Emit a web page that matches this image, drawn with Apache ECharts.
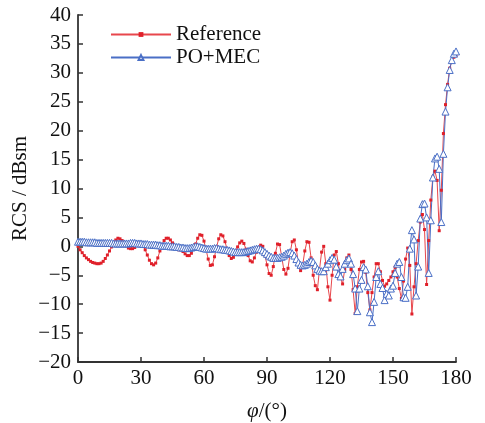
<!DOCTYPE html>
<html><head><meta charset="utf-8">
<script src="https://cdn.jsdelivr.net/npm/echarts@6/dist/echarts.min.js"></script>
<style>html,body{margin:0;padding:0;background:#fff}#c{width:485px;height:423px}</style>
</head><body><div id="c"></div>
<script>
// RCS (dBsm) vs phi (deg), sampled every 1 degree from 0 to 180
const referenceRCS = [
 0.0,-0.6,-1.1,-1.6,-2.0,-2.3,-2.6,-2.8,-2.9,-3.0,
 -3.0,-2.9,-2.6,-2.1,-1.5,-0.8,-0.1,0.6,1.1,1.4,
 1.3,1.0,0.6,0.1,-0.3,-0.4,-0.4,-0.2,0.2,0.5,
 0.5,0.1,-0.6,-1.5,-2.4,-3.0,-3.2,-2.9,-2.0,-0.8,
 0.3,1.0,1.4,1.4,1.1,0.6,0.0,-0.4,-0.6,-0.6,
 -0.9,-1.3,-1.6,-1.6,-1.2,-0.5,0.4,1.4,2.0,1.9,
 0.9,-0.6,-2.2,-3.3,-3.2,-1.8,-0.1,1.3,2.0,1.8,
 0.8,-0.5,-1.6,-2.1,-1.9,-1.0,-0.1,0.6,0.9,0.5,
 -0.5,-1.6,-2.5,-2.7,-2.0,-1.0,-0.2,0.2,0.0,-1.5,
 -3.2,-4.7,-5.0,-3.5,-1.2,0.4,0.3,-1.8,-4.0,-4.8,
 -3.8,-1.2,0.8,1.1,-0.6,-3.0,-4.2,-3.2,-0.8,0.8,
 0.7,-2.0,-5.0,-6.8,-7.5,-4.0,-1.0,0.0,-3.0,-7.0,
 -9.3,-5.0,-1.5,-0.9,-3.0,-5.5,-6.5,-4.0,-2.0,-1.5,
 -4.0,-7.5,-11.6,-7.0,-4.0,-2.7,-2.6,-4.5,-8.0,-11.0,
 -8.0,-5.3,-3.0,-3.0,-4.4,-5.9,-6.9,-6.5,-5.9,-5.3,
 -4.4,-3.6,-5.3,-7.3,-9.0,-6.0,-2.2,-0.3,-3.3,-11.7,
 -7.0,-3.0,1.0,4.2,5.5,2.9,-6.6,1.0,8.0,12.0,
 13.0,11.4,2.7,9.7,19.5,24.5,28.0,30.8,32.0,32.7,33.0
];
const pomecRCS = [
 0.8,0.8,0.8,0.8,0.7,0.7,0.7,0.7,0.7,0.6,
 0.6,0.6,0.6,0.6,0.6,0.6,0.6,0.5,0.5,0.5,
 0.5,0.5,0.5,0.5,0.5,0.6,0.6,0.6,0.5,0.5,
 0.5,0.4,0.4,0.4,0.3,0.3,0.3,0.3,0.2,0.2,
 0.1,0.1,0.1,0.1,0.0,0.0,0.0,-0.1,-0.1,-0.2,
 -0.2,-0.3,-0.3,-0.3,-0.2,-0.1,0.0,0.0,-0.1,-0.2,
 -0.3,-0.4,-0.4,-0.4,-0.4,-0.3,-0.3,-0.4,-0.5,-0.5,
 -0.6,-0.6,-0.7,-0.8,-0.9,-1.0,-1.0,-1.0,-1.0,-1.0,
 -0.9,-0.8,-0.7,-0.6,-0.5,-0.4,-0.4,-0.5,-0.7,-1.0,
 -1.3,-1.6,-1.8,-2.0,-2.0,-2.0,-1.9,-1.8,-1.6,-1.3,
 -1.1,-1.0,-1.2,-1.6,-2.2,-2.8,-3.2,-3.3,-3.2,-3.0,
 -2.7,-2.5,-2.7,-3.3,-3.9,-4.2,-4.3,-4.3,-3.6,-3.0,
 -2.4,-2.0,-2.3,-3.5,-4.8,-5.2,-3.9,-3.0,-2.4,-2.1,
 -3.0,-4.8,-7.3,-11.2,-7.3,-5.8,-3.6,-4.0,-6.9,-11.4,
 -13.1,-9.6,-5.3,-4.3,-6.5,-7.2,-9.3,-8.2,-8.5,-7.3,
 -6.8,-4.6,-3.0,-2.7,-5.3,-8.8,-8.9,-7.0,-0.4,2.8,
 1.2,-8.5,-3.5,4.8,7.3,7.4,5.0,-4.6,4.5,11.9,
 15.2,15.5,13.4,4.2,16.0,23.3,27.5,30.5,32.2,33.3,33.7
];
const phiAngles = referenceRCS.map((_, i) => i);
const xTicks = [0, 30, 60, 90, 120, 150, 180];
const yTicks = [-20, -15, -10, -5, 0, 5, 10, 15, 20, 25, 30, 35, 40];
const seriesNames = ['Reference', 'PO+MEC'];

const font = 'Liberation Serif, Times New Roman, serif';
const chart = echarts.init(document.getElementById('c'), null, {renderer: 'canvas'});
const fmt = v => String(v).replace('-', '\u2212');
chart.setOption({
  animation: false,
  backgroundColor: '#ffffff',
  grid: {left: 78, right: 29, top: 15, bottom: 61, containLabel: false, outerBoundsMode: 'none'},
  legend: {
    left: 110, top: 24, padding: 0, orient: 'vertical', itemWidth: 60, itemHeight: 6, itemGap: 2,
    data: seriesNames,
    textStyle: {fontFamily: font, fontSize: 21, color: '#111'}
  },
  xAxis: {
    type: 'value', min: xTicks[0], max: xTicks[xTicks.length - 1], interval: 30,
    name: '{i|φ}/(°)', nameLocation: 'middle', nameGap: 39, nameMoveOverlap: false,
    nameTextStyle: {fontFamily: font, fontSize: 21, color: '#111',
      rich: {i: {fontFamily: font, fontStyle: 'italic', fontSize: 21, color: '#111'}}},
    axisLine: {show: true, onZero: false, lineStyle: {color: '#333', width: 1.8}},
    axisTick: {show: true, inside: true, length: 5, lineStyle: {color: '#333', width: 1.5}},
    axisLabel: {fontFamily: font, fontSize: 21, color: '#111', margin: 6},
    splitLine: {show: false}
  },
  yAxis: {
    type: 'value', min: yTicks[0], max: yTicks[yTicks.length - 1], interval: 5,
    name: 'RCS / dBsm', nameLocation: 'middle', nameGap: 47, nameMoveOverlap: false,
    nameTextStyle: {fontFamily: font, fontSize: 21, color: '#111'},
    axisLine: {show: true, onZero: false, lineStyle: {color: '#333', width: 1.8}},
    axisTick: {show: true, inside: true, length: 5, lineStyle: {color: '#333', width: 1.5}},
    axisLabel: {fontFamily: font, fontSize: 21, color: '#111', margin: 7, formatter: fmt},
    splitLine: {show: false}
  },
  series: [
    {
      name: seriesNames[0], type: 'line',
      data: phiAngles.map((a, i) => [a, referenceRCS[i]]),
      symbol: 'rect', symbolSize: 3, showSymbol: true,
      lineStyle: {color: '#e8474c', width: 1},
      itemStyle: {color: '#e0202a', borderWidth: 0}
    },
    {
      name: seriesNames[1], type: 'line',
      data: phiAngles.map((a, i) => [a, pomecRCS[i]]),
      symbol: 'triangle', symbolSize: 7, showSymbol: true,
      lineStyle: {color: '#4a6fc6', width: 1},
      itemStyle: {color: '#ffffff', borderColor: '#4a6fc6', borderWidth: 1}
    }
  ]
});
</script></body></html>
